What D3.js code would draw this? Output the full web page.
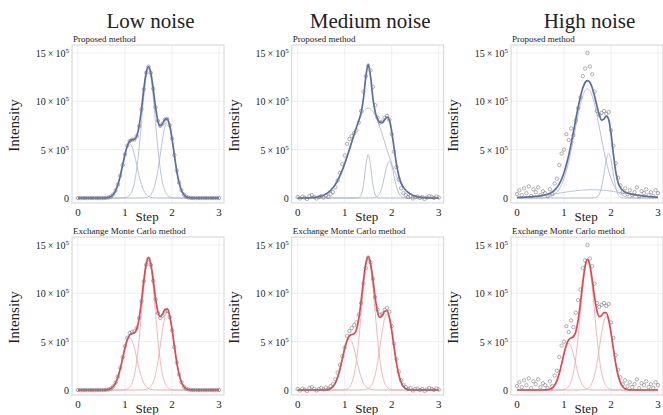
<!DOCTYPE html>
<html>
<head>
<meta charset="utf-8">
<script src="https://cdn.jsdelivr.net/npm/d3@7"></script>
<style>
  body { margin: 0; background: #fff; }
  text { font-family: "Liberation Serif", "Times New Roman", serif; fill: #222; }
</style>
</head>
<body>
<div id="chart"></div>
<script>
// step grid (0 .. 3, every 0.05)
const steps = d3.range(61).map(i => i * 0.05);

const noiseLevels = ["Low noise", "Medium noise", "High noise"];
const methods = ["Proposed method", "Exchange Monte Carlo method"];
const xTicks = [0, 1, 2, 3];
const yTicks = [0, 5, 10, 15];

// observed intensities, in units of 10^5 (shared by both methods of a column)
const lowObs = [
  0, 0, 0, 0, 0, 0, 0, 0, 0, 0,
  0, 0, .02, .06, .16, .37, .76, 1.39, 2.30, 3.40,
  4.53, 5.41, 5.89, 6.02, 6.06, 6.41, 7.43, 9.18, 11.26, 12.95,
  13.59, 12.94, 11.30, 9.39, 7.97, 7.46, 7.69, 8.13, 8.19, 7.52,
  6.16, 4.45, 2.84, 1.60, .80, .35, .13, .05, .02, 0,
  0, 0, 0, 0, 0, 0, 0, 0, 0, 0, 0
];
const medObs = [
  .10, -.05, .15, .05, -.10, .20, .30, .10, -.05, .10,
  .20, .05, .25, .10, .40, .60, 1.10, 1.80, 2.60, 3.50,
  4.40, 5.60, 6.10, 6.40, 6.70, 7.00, 7.80, 9.00, 11.00, 12.60,
  13.70, 13.20, 11.50, 9.60, 8.30, 7.80, 7.90, 8.30, 8.50, 8.10,
  6.60, 4.80, 3.20, 1.90, 1.00, .50, .30, .10, .20, -.05,
  .10, .15, 0, .10, -.10, .05, .20, .10, 0, .15, .05
];
const highObs = [
  .4, .8, .3, 1.0, .5, 1.2, .2, .9, .6, 1.1,
  .3, .7, .5, .2, .9, .4, 1.5, 2.0, 3.4, 4.6,
  5.0, 6.6, 6.0, 7.2, 6.5, 8.0, 9.3, 10.4, 12.6, 13.4,
  15.0, 13.6, 12.8, 11.0, 9.0, 8.6, 8.8, 9.0, 8.7, 8.9,
  7.0, 5.4, 3.6, 2.1, 1.3, .6, 1.0, .4, .8, .3,
  .6, 1.1, .2, .7, .5, .9, .3, .6, .2, .8, .5
];

// fitted peak components, proposed method
const lowPropA = [
  0, 0, 0, 0, 0, 0, 0, 0, 0, 0,
  0, 0, .02, .06, .16, .37, .76, 1.39, 2.30, 3.40,
  4.49, 5.30, 5.6, 5.30, 4.49, 3.40, 2.30, 1.39, .76, .37,
  .16, .06, .02, 0, 0, 0, 0, 0, 0, 0,
  0, 0, 0, 0, 0, 0, 0, 0, 0, 0,
  0, 0, 0, 0, 0, 0, 0, 0, 0, 0, 0
];
const lowPropB = [
  0, 0, 0, 0, 0, 0, 0, 0, 0, 0,
  0, 0, 0, 0, 0, 0, 0, 0, 0, 0,
  .04, .11, .29, .72, 1.57, 3.01, 5.13, 7.79, 10.48, 12.53,
  13.3, 12.53, 10.48, 7.79, 5.13, 3.01, 1.57, .72, .29, .11,
  .04, 0, 0, 0, 0, 0, 0, 0, 0, 0,
  0, 0, 0, 0, 0, 0, 0, 0, 0, 0, 0
];
const lowPropC = [
  0, 0, 0, 0, 0, 0, 0, 0, 0, 0,
  0, 0, 0, 0, 0, 0, 0, 0, 0, 0,
  0, 0, 0, 0, 0, 0, 0, 0, .02, .05,
  .13, .35, .80, 1.60, 2.84, 4.45, 6.12, 7.41, 7.9, 7.41,
  6.12, 4.45, 2.84, 1.60, .80, .35, .13, .05, .02, 0,
  0, 0, 0, 0, 0, 0, 0, 0, 0, 0, 0
];
const medPropBroad = [
  0, 0, 0, 0, .01, .02, .04, .06, .08, .13,
  .20, .29, .41, .58, .79, 1.06, 1.40, 1.82, 2.32, 2.89,
  3.54, 4.26, 5.01, 5.79, 6.58, 7.31, 7.97, 8.53, 8.95, 9.21,
  9.3, 9.21, 8.95, 8.53, 7.97, 7.31, 6.58, 5.79, 5.01, 4.26,
  3.54, 2.89, 2.32, 1.82, 1.40, 1.06, .79, .58, .41, .29,
  .20, .13, .08, .06, .04, .02, .01, 0, 0, 0, 0
];
const medPropNarrow = [
  0, 0, 0, 0, 0, 0, 0, 0, 0, 0,
  0, 0, 0, 0, 0, 0, 0, 0, 0, 0,
  0, 0, 0, 0, 0, 0, .04, .32, 1.38, 3.35,
  4.5, 3.35, 1.38, .32, .04, 0, 0, 0, 0, 0,
  0, 0, 0, 0, 0, 0, 0, 0, 0, 0,
  0, 0, 0, 0, 0, 0, 0, 0, 0, 0, 0
];
const medPropRight = [
  0, 0, 0, 0, 0, 0, 0, 0, 0, 0,
  0, 0, 0, 0, 0, 0, 0, 0, 0, 0,
  0, 0, 0, 0, 0, 0, 0, 0, 0, 0,
  0, 0, .01, .04, .17, .51, 1.24, 2.31, 3.35, 3.8,
  3.35, 2.31, 1.24, .51, .17, .04, .01, 0, 0, 0,
  0, 0, 0, 0, 0, 0, 0, 0, 0, 0, 0
];
const highPropMain = [
  0, 0, 0, 0, 0, 0, 0, 0, 0, 0,
  .01, .02, .05, .08, .14, .24, .40, .62, .96, 1.42,
  2.03, 2.81, 3.77, 4.88, 6.09, 7.36, 8.59, 9.68, 10.55, 11.11,
  11.3, 11.11, 10.55, 9.68, 8.59, 7.36, 6.09, 4.88, 3.77, 2.81,
  2.03, 1.42, .96, .62, .40, .24, .14, .08, .05, .02,
  .01, 0, 0, 0, 0, 0, 0, 0, 0, 0, 0
];
const highPropRight = [
  0, 0, 0, 0, 0, 0, 0, 0, 0, 0,
  0, 0, 0, 0, 0, 0, 0, 0, 0, 0,
  0, 0, 0, 0, 0, 0, 0, 0, 0, 0,
  0, 0, 0, .02, .10, .39, 1.15, 2.48, 3.94, 4.6,
  3.94, 2.48, 1.15, .39, .10, .02, 0, 0, 0, 0,
  0, 0, 0, 0, 0, 0, 0, 0, 0, 0, 0
];
const highPropBase = [
  .05, .06, .07, .08, .10, .11, .13, .15, .17, .19,
  .22, .25, .28, .31, .35, .38, .42, .46, .50, .54,
  .58, .62, .65, .69, .72, .75, .78, .80, .82, .84,
  .85, .86, .86, .86, .85, .84, .82, .80, .77, .74,
  .71, .68, .64, .60, .56, .52, .48, .44, .40, .36,
  .33, .30, .26, .23, .20, .18, .15, .13, .11, .09, .08
];

// fitted peak components, exchange Monte Carlo method
const lowEmcA = [
  0, 0, 0, 0, 0, 0, 0, 0, 0, 0,
  0, 0, .02, .06, .16, .36, .73, 1.34, 2.22, 3.28,
  4.33, 5.11, 5.4, 5.11, 4.33, 3.28, 2.22, 1.34, .73, .36,
  .16, .06, .02, 0, 0, 0, 0, 0, 0, 0,
  0, 0, 0, 0, 0, 0, 0, 0, 0, 0,
  0, 0, 0, 0, 0, 0, 0, 0, 0, 0, 0
];
const lowEmcB = [
  0, 0, 0, 0, 0, 0, 0, 0, 0, 0,
  0, 0, 0, 0, 0, 0, 0, 0, 0, 0,
  .04, .11, .29, .72, 1.58, 3.03, 5.17, 7.85, 10.56, 12.62,
  13.4, 12.62, 10.56, 7.85, 5.17, 3.03, 1.58, .72, .29, .11,
  .04, 0, 0, 0, 0, 0, 0, 0, 0, 0,
  0, 0, 0, 0, 0, 0, 0, 0, 0, 0, 0
];
const lowEmcC = [
  0, 0, 0, 0, 0, 0, 0, 0, 0, 0,
  0, 0, 0, 0, 0, 0, 0, 0, 0, 0,
  0, 0, 0, 0, 0, 0, 0, 0, .02, .05,
  .14, .36, .82, 1.64, 2.92, 4.56, 6.28, 7.60, 8.1, 7.60,
  6.28, 4.56, 2.92, 1.64, .82, .36, .14, .05, .02, 0,
  0, 0, 0, 0, 0, 0, 0, 0, 0, 0, 0
];
const medEmcA = [
  0, 0, 0, 0, 0, 0, 0, 0, 0, 0,
  0, 0, .02, .06, .15, .35, .72, 1.32, 2.18, 3.22,
  4.25, 5.01, 5.3, 5.01, 4.25, 3.22, 2.18, 1.32, .72, .35,
  .15, .06, .02, 0, 0, 0, 0, 0, 0, 0,
  0, 0, 0, 0, 0, 0, 0, 0, 0, 0,
  0, 0, 0, 0, 0, 0, 0, 0, 0, 0, 0
];
const medEmcB = [
  0, 0, 0, 0, 0, 0, 0, 0, 0, 0,
  0, 0, 0, 0, 0, 0, 0, 0, 0, 0,
  .04, .11, .30, .73, 1.59, 3.05, 5.21, 7.91, 10.64, 12.72,
  13.5, 12.72, 10.64, 7.91, 5.21, 3.05, 1.59, .73, .30, .11,
  .04, 0, 0, 0, 0, 0, 0, 0, 0, 0,
  0, 0, 0, 0, 0, 0, 0, 0, 0, 0, 0
];
const medEmcC = [
  0, 0, 0, 0, 0, 0, 0, 0, 0, 0,
  0, 0, 0, 0, 0, 0, 0, 0, 0, 0,
  0, 0, 0, 0, 0, 0, 0, 0, .02, .05,
  .13, .35, .80, 1.60, 2.84, 4.45, 6.12, 7.41, 7.9, 7.41,
  6.12, 4.45, 2.84, 1.60, .80, .35, .13, .05, .02, 0,
  0, 0, 0, 0, 0, 0, 0, 0, 0, 0, 0
];
const highEmcA = [
  0, 0, 0, 0, 0, 0, 0, 0, 0, 0,
  0, 0, .01, .03, .08, .21, .48, .97, 1.73, 2.70,
  3.72, 4.50, 4.8, 4.50, 3.72, 2.70, 1.73, .97, .48, .21,
  .08, .03, .01, 0, 0, 0, 0, 0, 0, 0,
  0, 0, 0, 0, 0, 0, 0, 0, 0, 0,
  0, 0, 0, 0, 0, 0, 0, 0, 0, 0, 0
];
const highEmcB = [
  0, 0, 0, 0, 0, 0, 0, 0, 0, 0,
  0, 0, 0, 0, 0, 0, 0, 0, 0, 0,
  .05, .15, .39, .88, 1.80, 3.31, 5.47, 8.07, 10.65, 12.58,
  13.3, 12.58, 10.65, 8.07, 5.47, 3.31, 1.80, .88, .39, .15,
  .05, 0, 0, 0, 0, 0, 0, 0, 0, 0,
  0, 0, 0, 0, 0, 0, 0, 0, 0, 0, 0
];
const highEmcC = [
  0, 0, 0, 0, 0, 0, 0, 0, 0, 0,
  0, 0, 0, 0, 0, 0, 0, 0, 0, 0,
  0, 0, 0, 0, 0, 0, 0, 0, .02, .05,
  .13, .33, .77, 1.54, 2.74, 4.28, 5.89, 7.13, 7.6, 7.13,
  5.89, 4.28, 2.74, 1.54, .77, .33, .13, .05, .02, 0,
  0, 0, 0, 0, 0, 0, 0, 0, 0, 0, 0
];

const observed = [lowObs, medObs, highObs];
const fits = [
  [[lowPropA, lowPropB, lowPropC], [medPropBroad, medPropNarrow, medPropRight], [highPropMain, highPropRight, highPropBase]],
  [[lowEmcA, lowEmcB, lowEmcC], [medEmcA, medEmcB, medEmcC], [highEmcA, highEmcB, highEmcC]]
];

let width = 663;
let height = 415;

let colLeft = [78, 297.7, 517];   // pixel of step 0
let rowBase = [198, 390];         // pixel of intensity 0
let plotW = 141;
let plotH = 145;

let color = {
  fit: ["#5d6c9f", "#e2474f"],
  comp: ["#a8b2cc", "#eca4ab"],
  dot: "#7a7a84",
  frame: "#d4d4d4",
  grid: "#efefef"
};

const svg = d3.select("#chart").append("svg")
  .attr("width", width)
  .attr("height", height);

noiseLevels.forEach((label, c) => {
  svg.append("text")
    .attr("x", colLeft[c] + plotW / 2 + 2)
    .attr("y", 28)
    .attr("text-anchor", "middle")
    .attr("font-size", 21)
    .attr("fill", "#111")
    .text(label);
});

methods.forEach((method, r) => {
  noiseLevels.forEach((level, c) => {
    let x = d3.scaleLinear().domain([0, 3]).range([colLeft[c], colLeft[c] + plotW]);
    let y = d3.scaleLinear().domain([0, 15]).range([rowBase[r], rowBase[r] - plotH]);

    const g = svg.append("g");
    let fl = x(0) - 6, fr = x(3) + 5, ft = y(15) - 8, fb = y(0) + 5;

    // grid
    g.append("g").selectAll("line")
      .data(xTicks)
      .enter().append("line")
      .attr("x1", d => x(d)).attr("x2", d => x(d))
      .attr("y1", ft).attr("y2", fb)
      .attr("stroke", color.grid);
    g.append("g").selectAll("line")
      .data(yTicks)
      .enter().append("line")
      .attr("x1", fl).attr("x2", fr)
      .attr("y1", d => y(d)).attr("y2", d => y(d))
      .attr("stroke", color.grid);

    g.append("rect")
      .attr("x", fl).attr("y", ft)
      .attr("width", fr - fl).attr("height", fb - ft)
      .attr("fill", "none")
      .attr("stroke", color.frame);

    // tick labels
    g.append("g").selectAll("text")
      .data(xTicks)
      .enter().append("text")
      .attr("x", d => x(d))
      .attr("y", fb + 13)
      .attr("text-anchor", "middle")
      .attr("font-size", 11)
      .text(d => d);

    const yl = g.append("g").selectAll("text")
      .data(yTicks)
      .enter().append("text")
      .attr("x", fl - 3)
      .attr("y", d => y(d) + 4)
      .attr("text-anchor", "end")
      .attr("font-size", 10);
    yl.append("tspan").text(d => d === 0 ? "0" : d + "\u2009×\u200910");
    yl.filter(d => d !== 0).append("tspan")
      .attr("dy", -4)
      .attr("font-size", 7)
      .text("5");

    g.append("text")
      .attr("x", x(1.47))
      .attr("y", fb + 18)
      .attr("text-anchor", "middle")
      .attr("font-size", 13)
      .text("Step");

    g.append("text")
      .attr("transform", `translate(${x(0) - 59},${y(7.5)}) rotate(-90)`)
      .attr("text-anchor", "middle")
      .attr("font-size", 15)
      .text("Intensity");

    g.append("text")
      .attr("x", fl + 1)
      .attr("y", ft - 3)
      .attr("font-size", 9)
      .text(method);

    // fitted components and their sum
    const comps = fits[r][c];
    const total = steps.map((s, i) => d3.sum(comps, k => k[i]));

    let line = d3.line()
      .x((d, i) => x(steps[i]))
      .y(d => y(d))
      .curve(d3.curveMonotoneX);

    g.append("g").selectAll("path")
      .data(comps)
      .enter().append("path")
      .attr("d", line)
      .attr("fill", "none")
      .attr("stroke", color.comp[r])
      .attr("stroke-width", 0.8);

    g.append("path")
      .attr("d", line(total))
      .attr("fill", "none")
      .attr("stroke", color.fit[r])
      .attr("stroke-width", 1.7);

    // observed points
    g.append("g").selectAll("circle")
      .data(observed[c])
      .enter().append("circle")
      .attr("cx", (d, i) => x(steps[i]))
      .attr("cy", d => y(d))
      .attr("r", 1.7)
      .attr("fill", "none")
      .attr("stroke", color.dot)
      .attr("stroke-opacity", 0.85)
      .attr("stroke-width", 0.7);
  });
});
</script>
</body>
</html>
